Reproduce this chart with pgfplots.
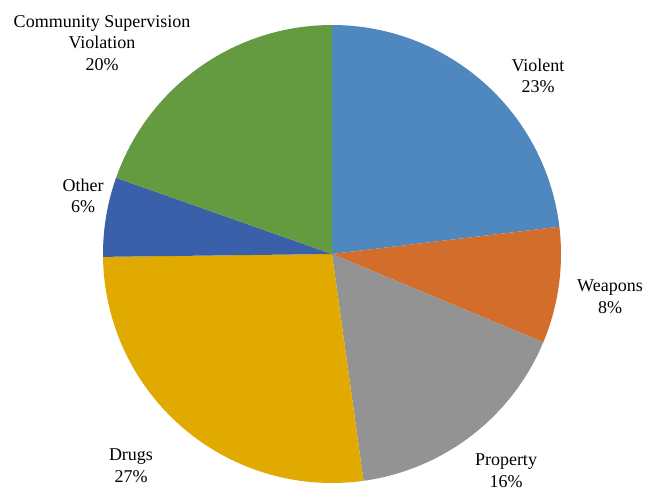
\documentclass[border=0pt]{standalone}
\usepackage{fontspec}
\setmainfont{Liberation Serif}
\usepackage{pgfplots}
\usepackage{pgfplotstable}
\pgfplotsset{compat=1.18}
\definecolor{cViolent}{RGB}{79,136,190}
\definecolor{cWeapons}{RGB}{211,109,43}
\definecolor{cProperty}{RGB}{147,147,147}
\definecolor{cDrugs}{RGB}{224,170,0}
\definecolor{cOther}{RGB}{59,96,170}
\definecolor{cCommunity}{RGB}{101,155,64}

\pgfplotstableread{
label value
Violent 23.1
Weapons 8.2
Property 16.5
Drugs 27.0
Other 5.6
Community 19.6
}\piedata

\pgfplotstablegetelem{0}{value}\of\piedata \pgfmathsetmacro\aA{90}\pgfmathsetmacro\aB{\aA-3.6*\pgfplotsretval}
\pgfplotstablegetelem{1}{value}\of\piedata \pgfmathsetmacro\aC{\aB-3.6*\pgfplotsretval}
\pgfplotstablegetelem{2}{value}\of\piedata \pgfmathsetmacro\aD{\aC-3.6*\pgfplotsretval}
\pgfplotstablegetelem{3}{value}\of\piedata \pgfmathsetmacro\aE{\aD-3.6*\pgfplotsretval}
\pgfplotstablegetelem{4}{value}\of\piedata \pgfmathsetmacro\aF{\aE-3.6*\pgfplotsretval}
\pgfplotstablegetelem{5}{value}\of\piedata \pgfmathsetmacro\aG{\aF-3.6*\pgfplotsretval}

\begin{document}
\begin{tikzpicture}
\begin{axis}[
  scale only axis, width=645pt, height=493pt,
  xmin=-332, xmax=313, ymin=-239, ymax=254,
  hide axis, clip=false,
  every axis plot/.append style={draw=none, data cs=polar, samples=90},
]
\addplot[fill=cViolent, domain=\aB:\aA] ({x},{229}) -- (axis cs:0,0) -- cycle;
\addplot[fill=cWeapons, domain=\aC:\aB] ({x},{229}) -- (axis cs:0,0) -- cycle;
\addplot[fill=cProperty, domain=\aD:\aC] ({x},{229}) -- (axis cs:0,0) -- cycle;
\addplot[fill=cDrugs, domain=\aE:\aD] ({x},{229}) -- (axis cs:0,0) -- cycle;
\addplot[fill=cOther, domain=\aF:\aE] ({x},{229}) -- (axis cs:0,0) -- cycle;
\addplot[fill=cCommunity, domain=\aG:\aF] ({x},{229}) -- (axis cs:0,0) -- cycle;

\begin{scope}[every node/.style={align=center, font=\fontsize{18}{21.6}\selectfont, text=black}]
\node at (axis cs:-230,211) {Community Supervision\\Violation\\20\%};
\node at (axis cs:206,178) {Violent\\23\%};
\node at (axis cs:278,-43) {Weapons\\8\%};
\node at (axis cs:174,-217) {Property\\16\%};
\node at (axis cs:-201,-212) {Drugs\\27\%};
\node at (axis cs:-249,58) {Other\\6\%};
\end{scope}
\end{axis}
\pgfresetboundingbox
\useasboundingbox (current axis.south west) rectangle (current axis.north east);
\end{tikzpicture}
\end{document}
